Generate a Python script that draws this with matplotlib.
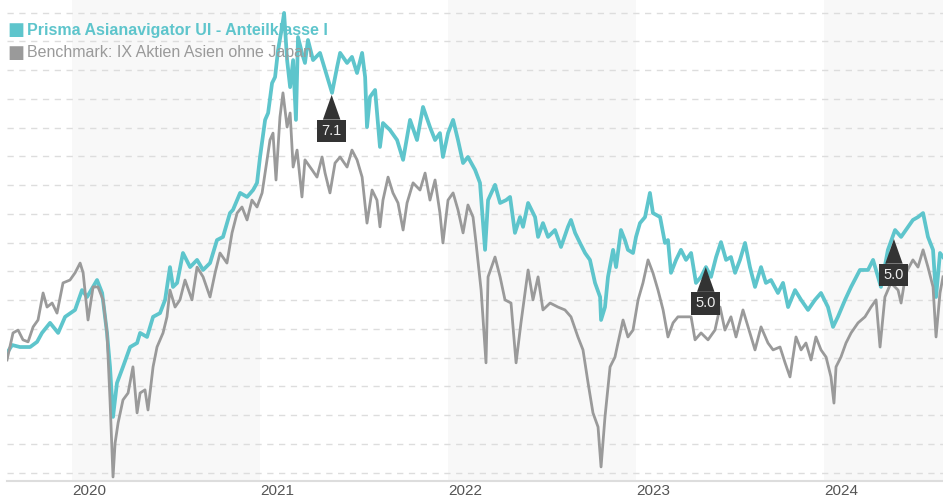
import matplotlib.pyplot as plt

# decimal years / index values
fund_t = [2019.654, 2019.681, 2019.723, 2019.777, 2019.814, 2019.840, 2019.883, 2019.926, 2019.963,
          2020.016, 2020.053, 2020.080, 2020.133, 2020.160, 2020.186, 2020.202, 2020.218, 2020.239,
          2020.271, 2020.309, 2020.346, 2020.362, 2020.399, 2020.431, 2020.468, 2020.495, 2020.521,
          2020.537, 2020.559, 2020.590, 2020.628, 2020.665, 2020.697, 2020.734, 2020.771, 2020.803,
          2020.840, 2020.856, 2020.894, 2020.931, 2020.963, 2020.984, 2021.000, 2021.027, 2021.043,
          2021.064, 2021.080, 2021.096, 2021.117, 2021.128, 2021.144, 2021.160, 2021.176, 2021.191,
          2021.202, 2021.223, 2021.239, 2021.255, 2021.282, 2021.319, 2021.346, 2021.383, 2021.410,
          2021.426, 2021.463, 2021.489, 2021.516, 2021.543, 2021.559, 2021.569, 2021.585, 2021.612,
          2021.638, 2021.654, 2021.691, 2021.729, 2021.761, 2021.798, 2021.835, 2021.867, 2021.904,
          2021.931, 2021.957, 2021.973, 2022.000, 2022.027, 2022.053, 2022.080, 2022.106, 2022.144,
          2022.170, 2022.197, 2022.213, 2022.250, 2022.277, 2022.309, 2022.330, 2022.356, 2022.383,
          2022.399, 2022.426, 2022.463, 2022.479, 2022.505, 2022.532, 2022.569, 2022.601, 2022.638,
          2022.654, 2022.676, 2022.702, 2022.729, 2022.755, 2022.782, 2022.809, 2022.814, 2022.835,
          2022.851, 2022.878, 2022.894, 2022.920, 2022.941, 2022.957, 2022.984, 2023.000, 2023.021,
          2023.048, 2023.074, 2023.090, 2023.128, 2023.154, 2023.170, 2023.186, 2023.213, 2023.239,
          2023.266, 2023.293, 2023.319, 2023.346, 2023.372, 2023.399, 2023.426, 2023.452, 2023.479,
          2023.505, 2023.527, 2023.553, 2023.580, 2023.606, 2023.633, 2023.665, 2023.691, 2023.718,
          2023.755, 2023.782, 2023.809, 2023.846, 2023.878, 2023.915, 2023.952, 2023.984, 2024.021,
          2024.048, 2024.074, 2024.112, 2024.144, 2024.191, 2024.234, 2024.261, 2024.303, 2024.340,
          2024.378, 2024.410, 2024.447, 2024.473, 2024.500, 2024.527, 2024.553, 2024.580, 2024.596,
          2024.617, 2024.633]
fund_v = [101.6, 104.4, 103.7, 103.7, 105.5, 108.6, 112.1, 108.6, 114.2,
          116.6, 123.5, 121.1, 127.0, 122.5, 108.6, 96.8, 79.4, 91.2,
          96.8, 103.7, 105.1, 108.6, 107.2, 114.2, 115.5, 120.1, 131.5,
          124.6, 126.0, 136.4, 131.5, 134.0, 130.5, 132.9, 140.9, 142.0,
          150.3, 151.4, 157.3, 155.9, 158.3, 160.8, 169.8, 182.7, 185.1,
          195.5, 197.6, 207.0, 215.0, 219.9, 203.5, 194.1, 203.5, 182.7,
          211.5, 206.0, 202.5, 210.5, 203.5, 206.0, 200.1, 192.1, 201.1,
          206.0, 202.5, 204.6, 199.0, 206.0, 197.6, 180.2, 190.7, 193.1,
          173.3, 181.6, 179.2, 175.7, 168.8, 182.7, 175.7, 187.2, 180.2,
          175.7, 178.1, 169.8, 178.1, 182.7, 175.7, 167.7, 169.8, 165.3,
          160.8, 137.5, 154.8, 160.1, 153.8, 154.8, 155.9, 143.4, 148.9,
          145.5, 153.8, 148.9, 142.0, 146.8, 142.0, 144.4, 138.5, 145.5,
          147.9, 143.4, 139.9, 136.4, 134.0, 126.0, 121.1, 113.1, 117.6,
          128.1, 137.5, 131.5, 144.4, 140.9, 137.5, 136.4, 142.0, 146.8,
          148.9, 157.3, 150.3, 148.9, 139.9, 140.9, 129.5, 134.0, 137.5,
          134.0, 136.4, 126.0, 128.1, 131.5, 128.1, 135.0, 140.2, 134.0,
          135.0, 129.5, 134.0, 139.9, 131.5, 124.6, 131.5, 126.0, 127.0,
          122.5, 126.0, 117.6, 123.5, 120.1, 116.6, 120.1, 122.5, 117.6,
          110.7, 114.2, 120.1, 124.6, 130.5, 130.5, 134.0, 124.6, 137.5,
          144.4, 142.0, 145.5, 147.9, 148.9, 150.3, 142.0, 137.5, 121.1,
          136.4, 135.0]

bench_t = [2019.654, 2019.686, 2019.713, 2019.739, 2019.766, 2019.793, 2019.819, 2019.846, 2019.867,
           2019.894, 2019.920, 2019.952, 2019.989, 2020.016, 2020.043, 2020.059, 2020.085, 2020.112,
           2020.138, 2020.165, 2020.186, 2020.202, 2020.218, 2020.229, 2020.245, 2020.271, 2020.298,
           2020.324, 2020.346, 2020.362, 2020.388, 2020.404, 2020.431, 2020.452, 2020.484, 2020.505,
           2020.521, 2020.548, 2020.574, 2020.601, 2020.638, 2020.665, 2020.697, 2020.734, 2020.761,
           2020.787, 2020.824, 2020.851, 2020.878, 2020.904, 2020.931, 2020.957, 2020.984, 2021.011,
           2021.037, 2021.053, 2021.069, 2021.085, 2021.106, 2021.122, 2021.144, 2021.160, 2021.176,
           2021.197, 2021.223, 2021.239, 2021.277, 2021.303, 2021.330, 2021.346, 2021.372, 2021.399,
           2021.426, 2021.463, 2021.489, 2021.516, 2021.543, 2021.569, 2021.596, 2021.622, 2021.638,
           2021.654, 2021.681, 2021.707, 2021.734, 2021.761, 2021.782, 2021.814, 2021.851, 2021.878,
           2021.904, 2021.931, 2021.957, 2021.973, 2022.000, 2022.027, 2022.053, 2022.080, 2022.106,
           2022.133, 2022.149, 2022.176, 2022.202, 2022.213, 2022.250, 2022.277, 2022.303, 2022.335,
           2022.362, 2022.388, 2022.426, 2022.452, 2022.479, 2022.505, 2022.543, 2022.585, 2022.622,
           2022.654, 2022.691, 2022.718, 2022.745, 2022.771, 2022.798, 2022.814, 2022.835, 2022.862,
           2022.888, 2022.904, 2022.931, 2022.957, 2022.984, 2023.011, 2023.037, 2023.064, 2023.090,
           2023.117, 2023.144, 2023.170, 2023.197, 2023.223, 2023.261, 2023.293, 2023.314, 2023.346,
           2023.383, 2023.420, 2023.447, 2023.473, 2023.505, 2023.532, 2023.569, 2023.596, 2023.633,
           2023.665, 2023.702, 2023.729, 2023.766, 2023.793, 2023.819, 2023.851, 2023.878, 2023.904,
           2023.931, 2023.957, 2023.984, 2024.011, 2024.037, 2024.053, 2024.064, 2024.090, 2024.117,
           2024.144, 2024.181, 2024.218, 2024.250, 2024.277, 2024.298, 2024.324, 2024.356, 2024.394,
           2024.410, 2024.436, 2024.473, 2024.500, 2024.527, 2024.553, 2024.580, 2024.596, 2024.617,
           2024.633]
bench_v = [99.2, 108.6, 109.6, 106.2, 105.5, 110.7, 113.1, 122.5, 117.6,
           119.0, 115.5, 126.0, 127.0, 129.5, 132.9, 129.5, 113.1, 124.6,
           124.6, 120.1, 108.6, 85.3, 58.5, 70.3, 77.3, 85.3, 87.7,
           96.8, 80.8, 87.7, 88.8, 81.8, 96.8, 103.7, 108.6, 114.2,
           123.5, 117.6, 120.1, 127.0, 120.1, 131.5, 128.1, 121.1, 129.5,
           136.4, 132.9, 143.4, 150.3, 152.4, 147.9, 154.8, 152.4, 157.3,
           168.8, 175.7, 178.1, 161.8, 183.7, 192.1, 180.2, 185.1, 166.3,
           172.2, 155.9, 168.8, 165.3, 162.8, 169.8, 164.2, 157.3, 167.7,
           169.8, 166.3, 172.2, 168.8, 162.8, 146.8, 158.3, 154.8, 145.5,
           154.8, 162.8, 157.3, 153.8, 144.4, 153.8, 160.8, 158.3, 164.2,
           154.8, 161.8, 150.3, 139.9, 154.8, 157.3, 151.4, 143.4, 153.1,
           148.9, 139.9, 123.5, 98.2, 128.1, 135.0, 128.1, 120.1, 119.0,
           98.2, 112.1, 130.5, 120.1, 128.1, 116.6, 119.0, 117.6, 116.6,
           114.2, 107.2, 102.7, 91.2, 80.8, 75.9, 62.0, 79.4, 96.8,
           100.2, 105.1, 113.1, 107.2, 109.6, 120.1, 126.0, 134.0, 129.5,
           123.5, 116.6, 107.2, 112.1, 114.2, 114.2, 114.2, 106.2, 108.6,
           106.2, 109.6, 117.6, 109.6, 114.2, 107.2, 116.6, 110.7, 102.7,
           110.7, 105.1, 102.7, 103.7, 98.2, 93.3, 107.2, 102.7, 105.1,
           99.2, 107.2, 102.7, 100.2, 93.3, 84.2, 96.8, 100.2, 105.1,
           108.6, 112.1, 114.2, 117.6, 120.1, 103.7, 121.1, 126.0, 123.5,
           119.0, 129.5, 134.0, 131.5, 137.5, 131.5, 124.6, 107.2, 122.5,
           128.1]

# callouts on the fund line
note_t = [2021.381, 2023.371, 2024.372]
note_v = [191.4, 131.5, 141.3]
note_txt = ["7.1", "5.0", "5.0"]

years = [2020, 2021, 2022, 2023, 2024]
shaded_years = [2020, 2022, 2024]

teal = "#5ec5cc"
grey = "#9a9a9a"

plt.rcParams['font.family'] = ['Liberation Sans', 'DejaVu Sans']

fig = plt.figure(figsize=(9.43, 5.0), dpi=100)
ax = fig.add_axes([7 / 943, 19 / 500, 936 / 943, 481 / 500])

for y in shaded_years:
    ax.axvspan(y, y + 1, color="#f8f8f8", zorder=0, lw=0)

ax.plot(fund_t, fund_v, color=teal, lw=2.7, zorder=3)
ax.plot(bench_t, bench_v, color=grey, lw=2.0, zorder=4)

for t, v, s in zip(note_t, note_v, note_txt):
    ax.annotate(s, xy=(t, v), xytext=(0, -26), textcoords="offset points",
                ha="center", va="center", color="#eeeeee", fontsize=10.5, zorder=6,
                bbox=dict(boxstyle="square,pad=0.3", fc="#333333", ec="none"),
                arrowprops=dict(arrowstyle="wedge,tail_width=1.2", fc="#333333",
                                ec="none", shrinkA=0, shrinkB=0))

ax.set_xlim(2019.654, 2024.633)
ax.set_ylim(57.1, 224.4)
ax.set_yticks(range(60, 221, 10))
ax.yaxis.grid(True, ls=(0, (4.5, 4)), color="#dddddd", lw=1.0)
ax.set_axisbelow(True)
ax.tick_params(axis="y", length=0, labelleft=False)
ax.set_xticks(years)
ax.set_xticklabels([str(y) for y in years], ha="left", color="#555555", fontsize=11)
ax.tick_params(axis="x", length=0, pad=2)
for side in ["top", "left", "right"]:
    ax.spines[side].set_visible(False)
ax.spines["bottom"].set_color("#dddddd")
ax.spines["bottom"].set_linewidth(1.5)

fig.text(16 / 943, 1 - 30 / 500, "\u25a0", color=teal, fontsize=13, ha="center", va="center",
         family="DejaVu Sans")
fig.text(27 / 943, 1 - 30 / 500, "Prisma Asianavigator UI - Anteilklasse I", color=teal,
         fontsize=11.5, fontweight="bold", va="center")
fig.text(16 / 943, 1 - 53 / 500, "\u25a0", color=grey, fontsize=13, ha="center", va="center",
         family="DejaVu Sans")
fig.text(27 / 943, 1 - 53 / 500, "Benchmark: IX Aktien Asien ohne Japan", color=grey,
         fontsize=11.5, va="center")

fig.savefig("out.png", dpi=100)
